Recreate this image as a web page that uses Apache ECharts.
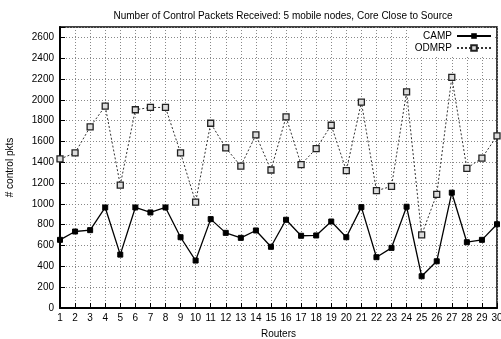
<!DOCTYPE html>
<html>
<head>
<meta charset="utf-8">
<script src="https://cdn.jsdelivr.net/npm/echarts@6/dist/echarts.min.js"></script>
<style>
  html, body { margin: 0; padding: 0; background: #fff; }
  #chart { width: 501px; height: 339px; }
</style>
</head>
<body>
<div id="chart"></div>
<script>
// Router ids along the x axis
const routers = [1,2,3,4,5,6,7,8,9,10,11,12,13,14,15,16,17,18,19,20,21,22,23,24,25,26,27,28,29,30];

// Control packets received per router
const campPkts = [655, 735, 748, 966, 513, 966, 918, 966, 680, 456,
                  854, 722, 674, 745, 588, 848, 694, 697, 831, 680,
                  969, 488, 578, 973, 305, 449, 1108, 632, 655, 805];
const odmrpPkts = [1432, 1490, 1740, 1939, 1181, 1905, 1927, 1927, 1490, 1017,
                   1775, 1538, 1364, 1663, 1326, 1836, 1378, 1532, 1756, 1320,
                   1978, 1127, 1169, 2077, 703, 1092, 2216, 1342, 1441, 1653];

const FONT = 'Liberation Sans, Arial, Helvetica, sans-serif';

const pairs = (ys) => routers.map((r, i) => [r, ys[i]]);

const chart = echarts.init(document.getElementById('chart'), null, { renderer: 'canvas' });

chart.setOption({
  animation: false,
  backgroundColor: '#fff',
  title: {
    text: 'Number of Control Packets Received: 5 mobile nodes, Core Close to Source',
    left: 278, top: 6, textAlign: 'center',
    textStyle: { fontFamily: FONT, fontSize: 10, fontWeight: 'normal', color: '#000' }
  },
  grid: {
    left: 60, right: 4, top: 27, bottom: 31,
    containLabel: false, outerBoundsMode: 'none',
    show: true, borderColor: '#000', borderWidth: 1.5, backgroundColor: 'transparent'
  },
  legend: {
    orient: 'vertical',
    right: 7, top: 29,
    align: 'right',
    itemWidth: 34, itemHeight: 7,
    itemGap: 2,
    padding: [2, 2, 2, 4],
    backgroundColor: '#fff',
    textStyle: { fontFamily: FONT, fontSize: 10, color: '#000', padding: [0, 0, 0, 0] },
    data: ['CAMP', 'ODMRP']
  },
  xAxis: {
    type: 'value', min: 1, max: 30, interval: 1,
    name: 'Routers', nameLocation: 'middle', nameGap: 21,
    nameTextStyle: { fontFamily: FONT, fontSize: 10, color: '#000' },
    axisLine: { lineStyle: { color: '#000', width: 2 } },
    axisTick: { inside: true, length: 5, lineStyle: { color: '#000', width: 1 } },
    axisLabel: { fontFamily: FONT, fontSize: 10, color: '#000', margin: 5, showMaxLabel: true },
    splitLine: { show: true, lineStyle: { color: '#888', type: [1, 2], width: 1 } }
  },
  yAxis: {
    type: 'value', min: 0, max: 2700, interval: 200,
    name: '# control pkts', nameLocation: 'middle', nameGap: 45,
    nameTextStyle: { fontFamily: FONT, fontSize: 10, color: '#000' },
    axisLine: { show: true, lineStyle: { color: '#000', width: 2 } },
    axisTick: { show: true, inside: true, length: 5, lineStyle: { color: '#000', width: 1 } },
    axisLabel: {
      fontFamily: FONT, fontSize: 10, color: '#000', margin: 6,
      formatter: (v) => (v % 200 === 0 ? String(v) : '')
    },
    splitLine: { show: true, lineStyle: { color: '#888', type: [1, 2], width: 1 } }
  },
  series: [
    {
      name: 'CAMP', type: 'line', data: pairs(campPkts),
      symbol: 'rect', symbolSize: 5,
      lineStyle: { color: '#000', width: 1.3 },
      itemStyle: { color: '#000', borderColor: '#000' },
      z: 3
    },
    {
      name: 'ODMRP', type: 'line', data: pairs(odmrpPkts),
      symbol: 'rect', symbolSize: 6,
      lineStyle: { color: '#333', width: 1, type: [2, 2] },
      itemStyle: { color: '#ddd', borderColor: '#222', borderWidth: 1.3 },
      z: 2
    }
  ]
});
</script>
</body>
</html>
